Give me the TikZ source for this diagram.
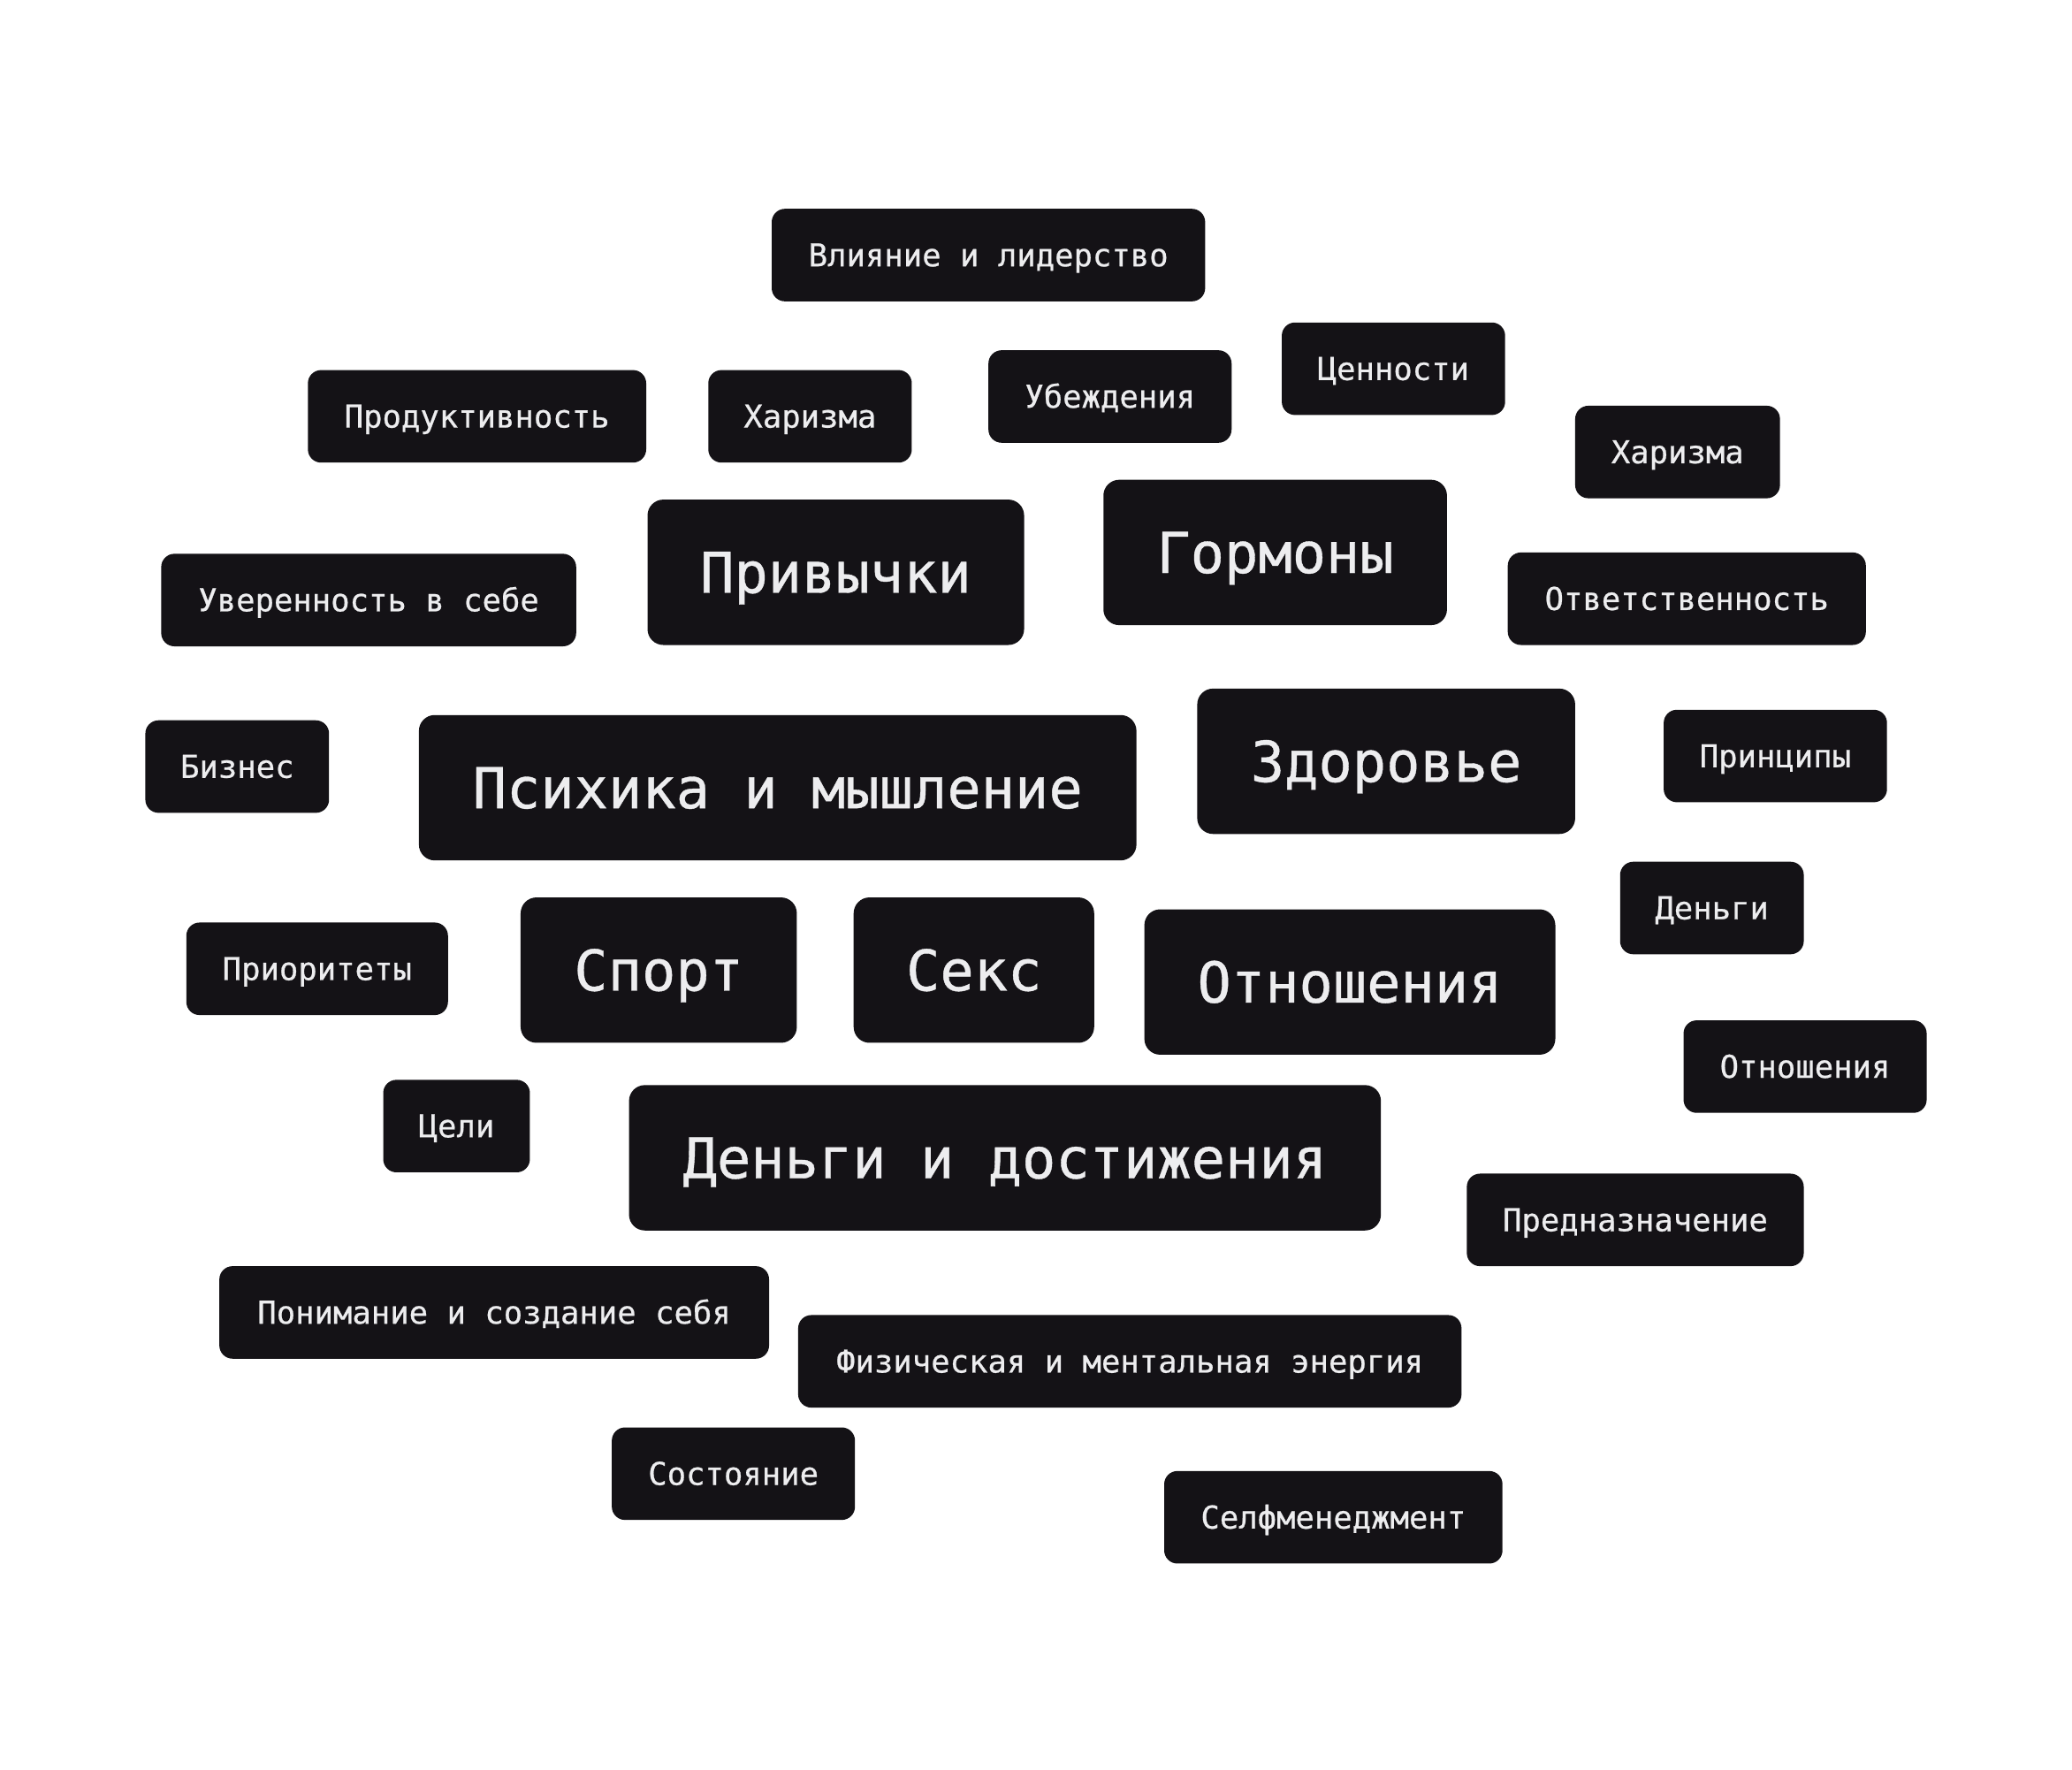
\documentclass[tikz,border=0pt]{standalone}
\usepackage{fontspec}
\newfontfamily\monof[FakeBold=0.6]{DejaVu Sans Mono}
\definecolor{boxc}{HTML}{141216}
\definecolor{txtc}{HTML}{EDEDEF}
\tikzset{
 tagbase/.style={rectangle, fill=boxc, text=txtc, inner sep=0pt, text depth=0pt},
 smalltag/.style={tagbase, rounded corners=10pt, minimum height=70pt, text height=17pt, font=\monof\fontsize{23.8}{28}\selectfont},
 bigtag/.style={tagbase, rounded corners=12pt, minimum height=110pt, text height=31pt, font=\monof\fontsize{42.6}{50}\selectfont},
}
\begin{document}
\begin{tikzpicture}[x=1pt,y=-1pt]
\fill[white] (0,0) rectangle (1568,1339);
\useasboundingbox (0,0) rectangle (1568,1339);
\node[smalltag, minimum width=328pt] (vl) at (748,193) {Влияние и лидерство};
\node[smalltag, minimum width=256pt] (prod) at (361,315) {Продуктивность};
\node[smalltag, minimum width=154pt] (har1) at (613,315) {Харизма};
\node[smalltag, minimum width=184pt] (ub) at (840,300) {Убеждения};
\node[smalltag, minimum width=169pt] (cen) at (1054.5,279) {Ценности};
\node[smalltag, minimum width=155pt] (har2) at (1269.5,342) {Харизма};
\node[smalltag, minimum width=314pt] (uver) at (279,454) {Уверенность в себе};
\node[bigtag, minimum width=285pt] (priv) at (632.5,433) {Привычки};
\node[bigtag, minimum width=260pt] (gorm) at (965,418) {Гормоны};
\node[smalltag, minimum width=271pt] (otv) at (1276.5,453) {Ответственность};
\node[smalltag, minimum width=139pt] (biz) at (179.5,580) {Бизнес};
\node[bigtag, minimum width=543pt] (psih) at (588.5,596) {Психика и мышление};
\node[bigtag, minimum width=286pt] (zdor) at (1049,576) {Здоровье};
\node[smalltag, minimum width=169pt] (princ) at (1343.5,572) {Принципы};
\node[smalltag, minimum width=139pt] (den) at (1295.5,687) {Деньги};
\node[smalltag, minimum width=198pt] (prior) at (240,733) {Приоритеты};
\node[bigtag, minimum width=209pt] (sport) at (498.5,734) {Спорт};
\node[bigtag, minimum width=182pt] (seks) at (737,734) {Секс};
\node[bigtag, minimum width=311pt] (otn1) at (1021.5,743) {Отношения};
\node[smalltag, minimum width=184pt] (otn2) at (1366,807) {Отношения};
\node[smalltag, minimum width=111pt] (celi) at (345.5,852) {Цели};
\node[bigtag, minimum width=569pt] (dd) at (760.5,876) {Деньги и достижения};
\node[smalltag, minimum width=255pt] (pred) at (1237.5,923) {Предназначение};
\node[smalltag, minimum width=416pt] (ponim) at (374,993) {Понимание и создание себя};
\node[smalltag, minimum width=502pt] (fiz) at (855,1030) {Физическая и ментальная энергия};
\node[smalltag, minimum width=184pt] (sost) at (555,1115) {Состояние};
\node[smalltag, minimum width=256pt] (self) at (1009,1148) {Селфменеджмент};
\end{tikzpicture}
\end{document}
